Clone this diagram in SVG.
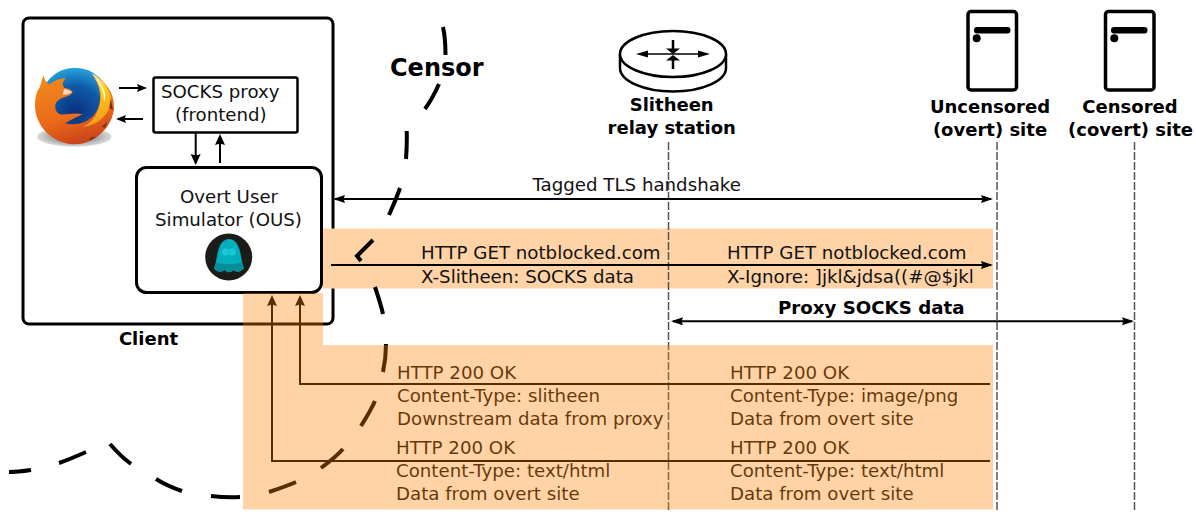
<svg xmlns="http://www.w3.org/2000/svg" width="1196" height="512" viewBox="0 0 1196 512">
<style>
text{font-family:"DejaVu Sans",sans-serif;font-size:18.2px;fill:#111}
.b{font-weight:bold;fill:#000;font-size:18px}
.m{text-anchor:middle}
.box{fill:#fff;stroke:#000}
.cens{fill:none;stroke:#000;stroke-width:4}
.life{fill:none;stroke:#555;stroke-width:1.5;stroke-dasharray:8 2}
.ln{fill:none;stroke:#000;stroke-width:2}
.lg{marker-end:url(#a)}
.both{marker-start:url(#a);marker-end:url(#a)}
.sm{marker-end:url(#s)}
.md{marker-end:url(#v)}
</style>
<defs>
<marker id="a" viewBox="0 0 12 8" refX="10" refY="4" markerWidth="12" markerHeight="8" markerUnits="userSpaceOnUse" orient="auto-start-reverse"><path d="M0,0L12,4L0,8L1.5,4Z" fill="#000"/></marker>
<marker id="s" viewBox="0 0 10 8" refX="8" refY="4" markerWidth="10" markerHeight="8" markerUnits="userSpaceOnUse" orient="auto"><path d="M0,0L10,4L0,8L1.5,4Z" fill="#000"/></marker>
<marker id="v" viewBox="0 0 11 10" refX="9" refY="5" markerWidth="11" markerHeight="10" markerUnits="userSpaceOnUse" orient="auto"><path d="M0,0L11,5L0,10L1.5,5Z" fill="#000"/></marker>
<radialGradient id="globe" cx="0.5" cy="0.65" r="0.65"><stop offset="0" stop-color="#0a2f7c"/><stop offset="0.6" stop-color="#0f5aa8"/><stop offset="1" stop-color="#25a5dc"/></radialGradient>
<linearGradient id="fox" x1="0.3" y1="0" x2="0.6" y2="1"><stop offset="0" stop-color="#f08a1e"/><stop offset="0.6" stop-color="#ec6a18"/><stop offset="1" stop-color="#c8401c"/></linearGradient>
<linearGradient id="flame" x1="0" y1="0" x2="0.4" y2="1"><stop offset="0" stop-color="#fff9e0"/><stop offset="0.5" stop-color="#ffd21e"/><stop offset="1" stop-color="#f59a1a"/></linearGradient>
<radialGradient id="shadow"><stop offset="0" stop-color="#555"/><stop offset="1" stop-color="#ddd"/></radialGradient>
</defs>
<rect width="1196" height="512" fill="#fff"/>

<g id="client">
<rect class="box" x="23" y="18" width="310" height="306" rx="6" stroke-width="3"/>
<text class="b m" x="148.500" y="345">Client</text>
</g>

<g id="firefox" transform="translate(20 55) scale(.3333)">
<ellipse cx="163" cy="245" rx="112" ry="30" fill="url(#shadow)"/>
<circle cx="165" cy="143" r="105" fill="url(#globe)"/>
<path d="M70,60C72,72 78,82 88,88C100,78 120,70 138,68C128,78 126,88 132,98C142,100 155,102 158,112C150,125 135,125 125,130C108,138 100,150 110,170C122,188 150,170 188,178C170,188 150,195 135,205C170,215 215,200 232,165C246,135 245,100 215,55C250,75 285,110 282,160C278,215 225,268 165,268C100,268 45,215 45,150C45,125 52,105 60,95Z" fill="url(#fox)"/>
<path d="M215,55C245,90 250,135 230,175C220,195 205,210 185,216C235,212 264,180 274,145C277,110 250,75 215,55Z" fill="url(#flame)"/>
<path d="M222,70C245,90 254,115 252,140C262,120 250,88 222,70Z" fill="#fffdf2"/>
<path d="M132,102C142,104 150,106 156,112C148,118 138,120 128,120Z" fill="#f7d9c4"/>
<path d="M272,130L279,165L268,160ZM262,200L255,218L246,215ZM230,245L208,257L212,248Z" fill="#7c2a10"/>
</g>

<g id="socks-proxy">
<rect class="box" x="153.500" y="77.500" width="144" height="55" rx="2" stroke-width="2.500"/>
<text x="161" y="98">SOCKS proxy</text>
<text x="175" y="121">(frontend)</text>
</g>

<g id="ous">
<rect class="box" x="136.500" y="167.500" width="185" height="125" rx="10" stroke-width="3"/>
<text class="m" x="229" y="203">Overt User</text>
<text class="m" x="228.500" y="226">Simulator (OUS)</text>
<circle cx="228.700" cy="257" r="23.500" fill="#1b1c18"/>
<path d="M214,268C218,260 216,240 229,239C242,240 240,260 244,268C240,273 236,272 233,270C231,273 227,273 225,270C221,272 217,273 214,268Z" fill="#00aebc"/>
<path d="M214,268C215,266 216,264 216.500,262C221,265 236,265 241.500,262C242,264 243,266 244,268C240,273 236,272 233,270C231,273 227,273 225,270C221,272 217,273 214,268Z" fill="#078c98"/>
<circle cx="225.500" cy="252" r="3.800" fill="#1cc6d4"/><circle cx="232" cy="252" r="3.800" fill="#1cc6d4"/>
</g>

<g id="band-request"><rect x="323" y="228.500" width="670" height="60" fill="#ffd3a6"/></g>

<g id="relay-station">
<path d="M620,54V68C620,81 644,91.500 673,91.500C702,91.500 726,81 726,68V54" fill="#fff" stroke="#000" stroke-width="2.500"/>
<ellipse cx="673" cy="54" rx="53" ry="23" fill="#fff" stroke="#000" stroke-width="2.500"/>
<path d="M645,54H701" stroke="#000" stroke-width="1.500"/>
<path d="M636,54L648,50.500V57.500ZM710,54L698,50.500V57.500Z" fill="#000"/>
<path d="M673,40V50M673,59V69" stroke="#000" stroke-width="2.500"/>
<path d="M666,48.500H680L673,54ZM666,60.500H680L673,55Z" fill="#000"/>
<text class="b m" x="671.700" y="111">Slitheen</text>
<text class="b m" x="671.700" y="133.500">relay station</text>
</g>

<g id="uncensored-site">
<rect x="968" y="11.500" width="48.500" height="78.500" rx="3" fill="#fff" stroke="#000" stroke-width="3.500"/>
<rect x="974" y="27" width="36.500" height="6.500" rx="3" fill="#000"/>
<circle cx="976.700" cy="38.300" r="4"/>
<text class="b m" x="990" y="113">Uncensored</text>
<text class="b m" x="990" y="135.500">(overt) site</text>
</g>

<g id="censored-site">
<rect x="1105.500" y="11.500" width="48.500" height="78.500" rx="3" fill="#fff" stroke="#000" stroke-width="3.500"/>
<rect x="1111" y="27" width="36.500" height="6.500" rx="3" fill="#000"/>
<circle cx="1114.300" cy="38.300" r="4"/>
<text class="b m" x="1130" y="113">Censored</text>
<text class="b m" x="1130.500" y="135.500">(covert) site</text>
</g>

<g id="lifelines">
<path class="life" d="M668.500,142V512"/>
<path class="life" d="M997,142V512"/>
<path class="life" d="M1134.500,142V512"/>
</g>

<g id="connectors">
<path class="ln sm" d="M119,88H145"/>
<path class="ln sm" d="M143,119H118"/>
<path class="ln md" d="M195.700,133V163"/>
<path class="ln md" d="M220,163V136"/>
<path class="ln both" d="M335,199H991"/>
<path class="ln lg" d="M331,265H991"/>
<path class="ln both" d="M673,321.300H1132"/>
<path class="ln md" d="M990,384H300V297"/>
<path class="ln md" d="M990,461H272V297"/>
</g>

<g id="censor">
<path class="cens" d="M443,27C445,36 445.500,46 445.500,55M439,84C435,93 430,102 425,109M406.700,131C407,140 406.700,150 406,159M400,188C397,197 393,206 389,215M373,240L357,256L361,261M375,287C378,296 381,305 383,314M386,344C386,354 385,363 383,372M375,401C371,410 366,418 361,426M343,449C337,456 329,462 321,468M296,482C287,486 278,489 269,492M240,497C230,497.500 220,497 211,496M182,491C173,488 164,484 156,479M131,464C123,458 116,451 110,444M86,452C77,456 68,460 59,463M31,470C24,471 16,472 9,472"/>
<text class="b" x="390" y="76" style="font-size:24px">Censor</text>
</g>

<g id="messages">
<text x="532.500" y="190.700">Tagged TLS handshake</text>
<text x="421" y="259">HTTP GET notblocked.com</text>
<text x="421" y="283">X-Slitheen: SOCKS data</text>
<text x="727" y="259">HTTP GET notblocked.com</text>
<text x="727" y="283">X-Ignore: ]jkl&amp;jdsa((#@$jkl</text>
<text class="b" x="778" y="314" style="font-size:18.2px">Proxy SOCKS data</text>
<text x="397" y="379">HTTP 200 OK</text>
<text x="397" y="402">Content-Type: slitheen</text>
<text x="397" y="425">Downstream data from proxy</text>
<text x="396" y="454">HTTP 200 OK</text>
<text x="396" y="477">Content-Type: text/html</text>
<text x="396" y="500">Data from overt site</text>
<text x="730" y="379">HTTP 200 OK</text>
<text x="730" y="402">Content-Type: image/png</text>
<text x="730" y="425">Data from overt site</text>
<text x="730" y="454">HTTP 200 OK</text>
<text x="730" y="477">Content-Type: text/html</text>
<text x="730" y="500">Data from overt site</text>
</g>

<g id="band-response"><path d="M243,293H323V345H993V509.500H243Z" fill="#ff8200" fill-opacity=".35"/></g>
</svg>
